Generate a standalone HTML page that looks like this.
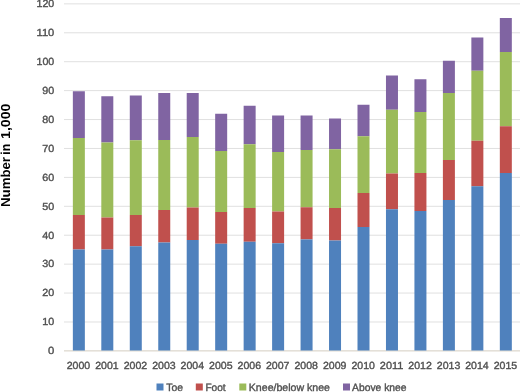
<!DOCTYPE html>
<html><head><meta charset="utf-8"><style>
html,body{margin:0;padding:0;background:#fff;}
body{width:520px;height:392px;overflow:hidden;}
svg{display:block;will-change:transform;text-rendering:geometricPrecision;}
.t{font-family:"Liberation Sans",sans-serif;font-size:10.3px;fill:#505050;stroke:#505050;stroke-width:0.38px;}
.l{font-size:10.5px;}
.yt{font-family:"Liberation Sans",sans-serif;font-size:13px;font-weight:bold;fill:#000;}
</style></head><body>
<svg width="520" height="392" viewBox="0 0 520 392">
<rect x="64" y="321.48" width="456" height="1.0" fill="#e0e0e0"/>
<rect x="64" y="292.56" width="456" height="1.0" fill="#e0e0e0"/>
<rect x="64" y="263.64" width="456" height="1.0" fill="#e0e0e0"/>
<rect x="64" y="234.72" width="456" height="1.0" fill="#e0e0e0"/>
<rect x="64" y="205.80" width="456" height="1.0" fill="#e0e0e0"/>
<rect x="64" y="176.88" width="456" height="1.0" fill="#e0e0e0"/>
<rect x="64" y="147.96" width="456" height="1.0" fill="#e0e0e0"/>
<rect x="64" y="119.04" width="456" height="1.0" fill="#e0e0e0"/>
<rect x="64" y="90.12" width="456" height="1.0" fill="#e0e0e0"/>
<rect x="64" y="61.20" width="456" height="1.0" fill="#e0e0e0"/>
<rect x="64" y="32.28" width="456" height="1.0" fill="#e0e0e0"/>
<rect x="64" y="3.36" width="456" height="1.0" fill="#e0e0e0"/>
<rect x="64" y="350.00" width="456" height="1.6" fill="#e4e0d8"/>
<rect x="72.85" y="91.25" width="12.0" height="46.75" fill="#8064a2"/>
<rect x="72.85" y="138.00" width="12.0" height="77.00" fill="#9bbb59"/>
<rect x="72.85" y="215.00" width="12.0" height="34.50" fill="#c0504d"/>
<rect x="72.85" y="249.50" width="12.0" height="101.00" fill="#4f81bd"/>
<rect x="101.31" y="96.25" width="12.0" height="46.25" fill="#8064a2"/>
<rect x="101.31" y="142.50" width="12.0" height="75.00" fill="#9bbb59"/>
<rect x="101.31" y="217.50" width="12.0" height="32.00" fill="#c0504d"/>
<rect x="101.31" y="249.50" width="12.0" height="101.00" fill="#4f81bd"/>
<rect x="129.78" y="95.50" width="12.0" height="44.75" fill="#8064a2"/>
<rect x="129.78" y="140.25" width="12.0" height="74.75" fill="#9bbb59"/>
<rect x="129.78" y="215.00" width="12.0" height="31.25" fill="#c0504d"/>
<rect x="129.78" y="246.25" width="12.0" height="104.25" fill="#4f81bd"/>
<rect x="158.25" y="93.00" width="12.0" height="47.00" fill="#8064a2"/>
<rect x="158.25" y="140.00" width="12.0" height="70.00" fill="#9bbb59"/>
<rect x="158.25" y="210.00" width="12.0" height="32.50" fill="#c0504d"/>
<rect x="158.25" y="242.50" width="12.0" height="108.00" fill="#4f81bd"/>
<rect x="186.71" y="93.00" width="12.0" height="44.00" fill="#8064a2"/>
<rect x="186.71" y="137.00" width="12.0" height="70.50" fill="#9bbb59"/>
<rect x="186.71" y="207.50" width="12.0" height="32.50" fill="#c0504d"/>
<rect x="186.71" y="240.00" width="12.0" height="110.50" fill="#4f81bd"/>
<rect x="215.17" y="113.75" width="12.0" height="37.25" fill="#8064a2"/>
<rect x="215.17" y="151.00" width="12.0" height="61.00" fill="#9bbb59"/>
<rect x="215.17" y="212.00" width="12.0" height="31.75" fill="#c0504d"/>
<rect x="215.17" y="243.75" width="12.0" height="106.75" fill="#4f81bd"/>
<rect x="243.64" y="105.75" width="12.0" height="38.50" fill="#8064a2"/>
<rect x="243.64" y="144.25" width="12.0" height="63.75" fill="#9bbb59"/>
<rect x="243.64" y="208.00" width="12.0" height="33.75" fill="#c0504d"/>
<rect x="243.64" y="241.75" width="12.0" height="108.75" fill="#4f81bd"/>
<rect x="272.11" y="115.50" width="12.0" height="36.50" fill="#8064a2"/>
<rect x="272.11" y="152.00" width="12.0" height="59.50" fill="#9bbb59"/>
<rect x="272.11" y="211.50" width="12.0" height="31.75" fill="#c0504d"/>
<rect x="272.11" y="243.25" width="12.0" height="107.25" fill="#4f81bd"/>
<rect x="300.57" y="115.50" width="12.0" height="34.50" fill="#8064a2"/>
<rect x="300.57" y="150.00" width="12.0" height="57.25" fill="#9bbb59"/>
<rect x="300.57" y="207.25" width="12.0" height="32.15" fill="#c0504d"/>
<rect x="300.57" y="239.40" width="12.0" height="111.10" fill="#4f81bd"/>
<rect x="329.03" y="118.50" width="12.0" height="30.75" fill="#8064a2"/>
<rect x="329.03" y="149.25" width="12.0" height="58.75" fill="#9bbb59"/>
<rect x="329.03" y="208.00" width="12.0" height="32.50" fill="#c0504d"/>
<rect x="329.03" y="240.50" width="12.0" height="110.00" fill="#4f81bd"/>
<rect x="357.50" y="104.75" width="12.0" height="31.50" fill="#8064a2"/>
<rect x="357.50" y="136.25" width="12.0" height="56.75" fill="#9bbb59"/>
<rect x="357.50" y="193.00" width="12.0" height="34.00" fill="#c0504d"/>
<rect x="357.50" y="227.00" width="12.0" height="123.50" fill="#4f81bd"/>
<rect x="385.97" y="75.50" width="12.0" height="34.25" fill="#8064a2"/>
<rect x="385.97" y="109.75" width="12.0" height="63.75" fill="#9bbb59"/>
<rect x="385.97" y="173.50" width="12.0" height="35.75" fill="#c0504d"/>
<rect x="385.97" y="209.25" width="12.0" height="141.25" fill="#4f81bd"/>
<rect x="414.43" y="79.25" width="12.0" height="32.75" fill="#8064a2"/>
<rect x="414.43" y="112.00" width="12.0" height="61.00" fill="#9bbb59"/>
<rect x="414.43" y="173.00" width="12.0" height="38.00" fill="#c0504d"/>
<rect x="414.43" y="211.00" width="12.0" height="139.50" fill="#4f81bd"/>
<rect x="442.89" y="60.75" width="12.0" height="32.25" fill="#8064a2"/>
<rect x="442.89" y="93.00" width="12.0" height="67.00" fill="#9bbb59"/>
<rect x="442.89" y="160.00" width="12.0" height="40.00" fill="#c0504d"/>
<rect x="442.89" y="200.00" width="12.0" height="150.50" fill="#4f81bd"/>
<rect x="471.36" y="37.50" width="12.0" height="33.25" fill="#8064a2"/>
<rect x="471.36" y="70.75" width="12.0" height="70.00" fill="#9bbb59"/>
<rect x="471.36" y="140.75" width="12.0" height="45.50" fill="#c0504d"/>
<rect x="471.36" y="186.25" width="12.0" height="164.25" fill="#4f81bd"/>
<rect x="499.83" y="18.00" width="12.0" height="34.00" fill="#8064a2"/>
<rect x="499.83" y="52.00" width="12.0" height="74.25" fill="#9bbb59"/>
<rect x="499.83" y="126.25" width="12.0" height="46.75" fill="#c0504d"/>
<rect x="499.83" y="173.00" width="12.0" height="177.50" fill="#4f81bd"/>
<text x="48.00" y="354.25" textLength="6.3" lengthAdjust="spacingAndGlyphs" class="t">0</text>
<text x="42.30" y="325.33" textLength="12.0" lengthAdjust="spacingAndGlyphs" class="t">10</text>
<text x="42.30" y="296.41" textLength="12.0" lengthAdjust="spacingAndGlyphs" class="t">20</text>
<text x="42.30" y="267.49" textLength="12.0" lengthAdjust="spacingAndGlyphs" class="t">30</text>
<text x="42.30" y="238.57" textLength="12.0" lengthAdjust="spacingAndGlyphs" class="t">40</text>
<text x="42.30" y="209.65" textLength="12.0" lengthAdjust="spacingAndGlyphs" class="t">50</text>
<text x="42.30" y="180.73" textLength="12.0" lengthAdjust="spacingAndGlyphs" class="t">60</text>
<text x="42.30" y="151.81" textLength="12.0" lengthAdjust="spacingAndGlyphs" class="t">70</text>
<text x="42.30" y="122.89" textLength="12.0" lengthAdjust="spacingAndGlyphs" class="t">80</text>
<text x="42.30" y="93.97" textLength="12.0" lengthAdjust="spacingAndGlyphs" class="t">90</text>
<text x="36.50" y="65.05" textLength="17.8" lengthAdjust="spacingAndGlyphs" class="t">100</text>
<text x="36.50" y="36.13" textLength="17.8" lengthAdjust="spacingAndGlyphs" class="t">110</text>
<text x="36.50" y="7.21" textLength="17.8" lengthAdjust="spacingAndGlyphs" class="t">120</text>
<text x="66.75" y="369.0" textLength="23.5" lengthAdjust="spacingAndGlyphs" class="t">2000</text>
<text x="95.22" y="369.0" textLength="23.5" lengthAdjust="spacingAndGlyphs" class="t">2001</text>
<text x="123.68" y="369.0" textLength="23.5" lengthAdjust="spacingAndGlyphs" class="t">2002</text>
<text x="152.15" y="369.0" textLength="23.5" lengthAdjust="spacingAndGlyphs" class="t">2003</text>
<text x="180.61" y="369.0" textLength="23.5" lengthAdjust="spacingAndGlyphs" class="t">2004</text>
<text x="209.07" y="369.0" textLength="23.5" lengthAdjust="spacingAndGlyphs" class="t">2005</text>
<text x="237.54" y="369.0" textLength="23.5" lengthAdjust="spacingAndGlyphs" class="t">2006</text>
<text x="266.00" y="369.0" textLength="23.5" lengthAdjust="spacingAndGlyphs" class="t">2007</text>
<text x="294.47" y="369.0" textLength="23.5" lengthAdjust="spacingAndGlyphs" class="t">2008</text>
<text x="322.93" y="369.0" textLength="23.5" lengthAdjust="spacingAndGlyphs" class="t">2009</text>
<text x="351.40" y="369.0" textLength="23.5" lengthAdjust="spacingAndGlyphs" class="t">2010</text>
<text x="379.87" y="369.0" textLength="23.5" lengthAdjust="spacingAndGlyphs" class="t">2011</text>
<text x="408.33" y="369.0" textLength="23.5" lengthAdjust="spacingAndGlyphs" class="t">2012</text>
<text x="436.79" y="369.0" textLength="23.5" lengthAdjust="spacingAndGlyphs" class="t">2013</text>
<text x="465.26" y="369.0" textLength="23.5" lengthAdjust="spacingAndGlyphs" class="t">2014</text>
<text x="493.73" y="369.0" textLength="23.5" lengthAdjust="spacingAndGlyphs" class="t">2015</text>
<rect x="156.5" y="383.5" width="7" height="7" fill="#4f81bd"/>
<text x="166.2" y="390.6" textLength="16.8" lengthAdjust="spacingAndGlyphs" class="t l">Toe</text>
<rect x="195.8" y="383.5" width="7" height="7" fill="#c0504d"/>
<text x="205.4" y="390.6" textLength="20.3" lengthAdjust="spacingAndGlyphs" class="t l">Foot</text>
<rect x="239.3" y="383.5" width="7" height="7" fill="#9bbb59"/>
<text x="248.8" y="390.6" textLength="81.2" lengthAdjust="spacingAndGlyphs" class="t l">Knee/below knee</text>
<rect x="343" y="383.5" width="7" height="7" fill="#8064a2"/>
<text x="352.1" y="390.6" textLength="54.4" lengthAdjust="spacingAndGlyphs" class="t l">Above knee</text>
<text transform="translate(9.5,207.0) rotate(-90)" textLength="50.0" lengthAdjust="spacingAndGlyphs" class="yt">Number</text>
<text transform="translate(9.5,154.8) rotate(-90)" textLength="11.0" lengthAdjust="spacingAndGlyphs" class="yt">in</text>
<text transform="translate(9.5,138.9) rotate(-90)" textLength="35.2" lengthAdjust="spacingAndGlyphs" class="yt">1,000</text>
</svg>
</body></html>
